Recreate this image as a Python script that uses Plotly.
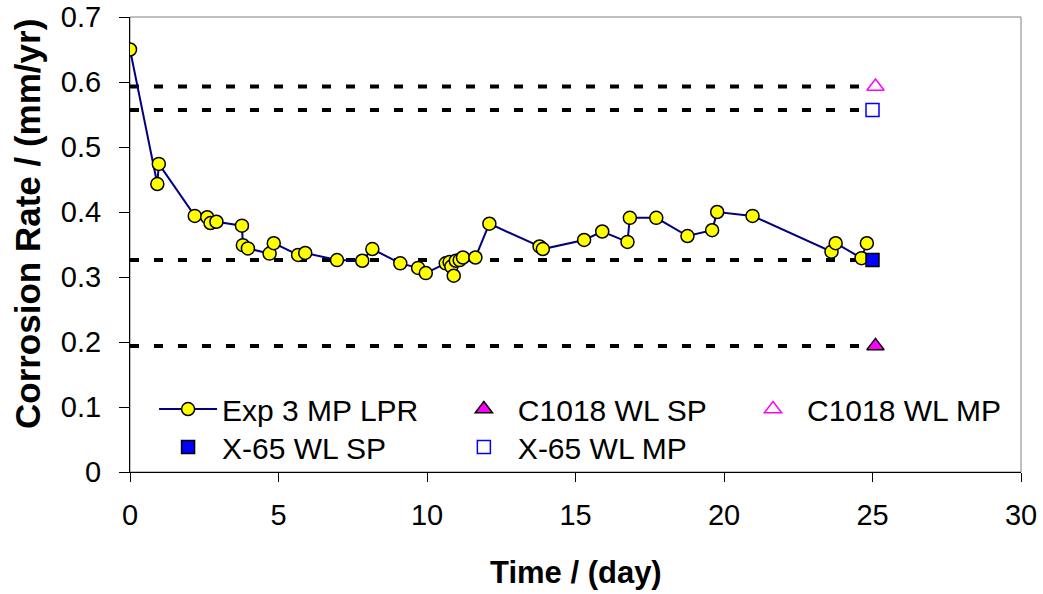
import plotly.graph_objects as go

# ---- data ----
time_day = [0, 0.92, 0.97, 2.18, 2.6, 2.71, 2.91, 3.77, 3.80, 3.97, 4.70, 4.84,
            5.66, 5.9, 6.97, 7.82, 8.16, 9.1, 9.7, 9.96, 10.63, 10.76, 10.82,
            10.9, 10.97, 11.1, 11.21, 11.63, 12.1, 13.79, 13.9, 15.29, 15.9,
            16.75, 16.83, 17.72, 18.77, 19.6, 19.77, 20.96, 23.62, 23.76,
            24.63, 24.81]
lpr_rate = [0.650, 0.443, 0.474, 0.394, 0.392, 0.383, 0.385, 0.379, 0.349,
            0.344, 0.336, 0.352, 0.334, 0.337, 0.326, 0.325, 0.343, 0.321,
            0.314, 0.306, 0.321, 0.323, 0.316, 0.302, 0.325, 0.326, 0.330,
            0.330, 0.382, 0.347, 0.343, 0.357, 0.370, 0.354, 0.391, 0.391,
            0.363, 0.372, 0.400, 0.394, 0.339, 0.352, 0.329, 0.352]

c1018_sp_x = [25.1]
c1018_sp_y = [0.194]
c1018_mp_x = [25.1]
c1018_mp_y = [0.593]
x65_sp_x = [25.0]
x65_sp_y = [0.326]
x65_mp_x = [25.0]
x65_mp_y = [0.557]

ref_levels = [0.593, 0.557, 0.326, 0.194]
ref_span = [0, 25]

x_ticks = [0, 5, 10, 15, 20, 25, 30]
y_ticks = [0, 0.1, 0.2, 0.3, 0.4, 0.5, 0.6, 0.7]
y_tick_labels = ["0", "0.1", "0.2", "0.3", "0.4", "0.5", "0.6", "0.7"]

FONT = "Liberation Sans, Arial, sans-serif"

fig = go.Figure()

for lvl in ref_levels:
    fig.add_trace(go.Scatter(
        x=ref_span, y=[lvl, lvl], mode="lines", showlegend=False,
        hoverinfo="skip",
        line=dict(color="black", width=4, dash="9px,15px")))

fig.add_trace(go.Scatter(
    x=time_day, y=lpr_rate, mode="lines+markers", name="Exp 3 MP LPR",
    legend="legend",
    line=dict(color="#000080", width=2),
    marker=dict(symbol="circle", size=13, color="#FFFF00",
                line=dict(color="black", width=1.5))))

fig.add_trace(go.Scatter(
    x=c1018_sp_x, y=c1018_sp_y, mode="markers", name="C1018 WL SP",
    legend="legend2",
    marker=dict(symbol="triangle-up", size=15, color="#FF00FF",
                line=dict(color="black", width=1.5))))

fig.add_trace(go.Scatter(
    x=c1018_mp_x, y=c1018_mp_y, mode="markers", name="C1018 WL MP",
    legend="legend3",
    marker=dict(symbol="triangle-up-open", size=15, color="#FF00FF",
                line=dict(color="#FF00FF", width=1.5))))

fig.add_trace(go.Scatter(
    x=x65_sp_x, y=x65_sp_y, mode="markers", name="X-65 WL SP",
    legend="legend4",
    marker=dict(symbol="square", size=13, color="#0000FF",
                line=dict(color="black", width=1.5))))

fig.add_trace(go.Scatter(
    x=x65_mp_x, y=x65_mp_y, mode="markers", name="X-65 WL MP",
    legend="legend5",
    marker=dict(symbol="square-open", size=13, color="#0000FF",
                line=dict(color="#0000FF", width=1.5))))

leg_common = dict(orientation="v", xanchor="left", yanchor="top",
                  font=dict(family=FONT, size=30, color="black"),
                  bgcolor="rgba(0,0,0,0)", itemwidth=58, borderwidth=0)
ROW1, ROW2 = 0.1956, 0.112
COL1, COL2, COL3 = 0.027, 0.359, 0.6835

fig.update_layout(
    width=1043, height=594,
    margin=dict(l=130, r=22, t=17, b=122, autoexpand=False),
    paper_bgcolor="white", plot_bgcolor="white",
    font=dict(family=FONT, size=30, color="black"),
    showlegend=True,
    legend=dict(x=COL1, y=ROW1, **leg_common),
    legend2=dict(x=COL2, y=ROW1, **leg_common),
    legend3=dict(x=COL3, y=ROW1, **leg_common),
    legend4=dict(x=COL1, y=ROW2, **leg_common),
    legend5=dict(x=COL2, y=ROW2, **leg_common),
    xaxis=dict(range=[0, 30], tickvals=x_ticks, ticks="outside", ticklen=9,
               tickcolor="black", tickwidth=1, showline=True,
               linecolor="black", linewidth=1, showgrid=False,
               zeroline=False, tickfont=dict(size=29),
               ticklabelstandoff=8),
    yaxis=dict(range=[0, 0.7], tickvals=y_ticks, ticktext=y_tick_labels,
               ticks="outside", ticklen=10, tickcolor="black", tickwidth=1,
               showline=True, linecolor="black", linewidth=1,
               showgrid=False, zeroline=False, tickfont=dict(size=29),
               ticklabelstandoff=12),
    shapes=[dict(type="rect", xref="paper", yref="paper", x0=0, x1=1,
                 y0=0, y1=1, line=dict(color="#808080", width=1),
                 layer="below")],
    annotations=[
        dict(text="<b>Time / (day)</b>", xref="paper", yref="paper",
             x=0.5, y=-0.22, xanchor="center", yanchor="middle",
             showarrow=False, font=dict(family=FONT, size=31)),
        dict(text="<b>Corrosion Rate / (mm/yr)</b>", xref="paper",
             yref="paper", x=-0.1156, y=0.545, xanchor="center",
             yanchor="middle", textangle=-90, showarrow=False,
             font=dict(family=FONT, size=35)),
    ],
)

fig.write_html("out.html")
